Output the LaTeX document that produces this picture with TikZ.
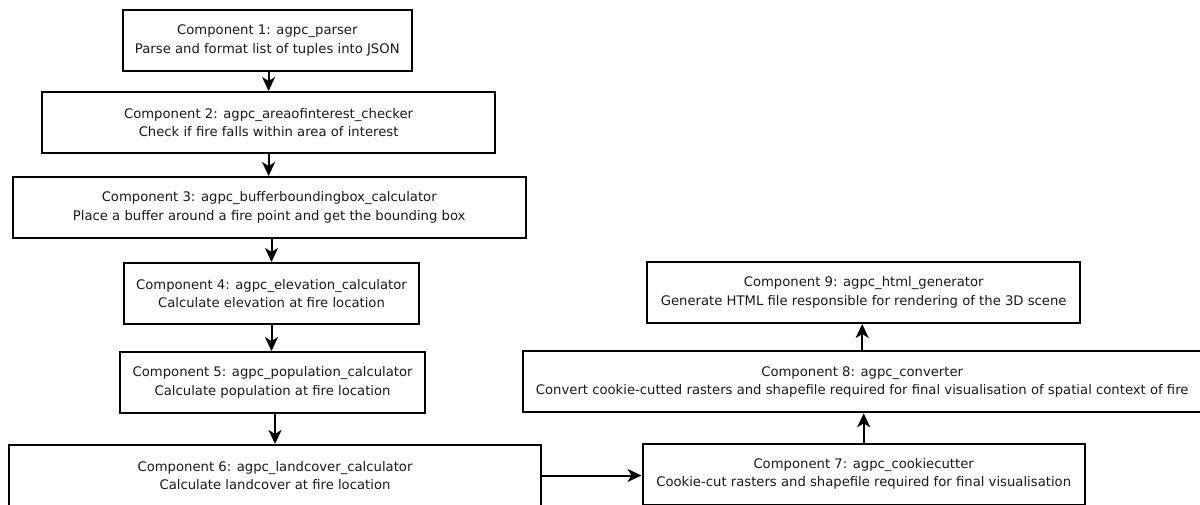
\documentclass[tikz,border=0pt]{standalone}
\usepackage{fontspec}
\setmainfont{DejaVu Sans}
\usetikzlibrary{arrows.meta}
\begin{document}
\begin{tikzpicture}[x=1pt,y=-1pt,
  comp/.style={draw=black, line width=2pt, fill=white, rectangle,
    minimum height=61pt, inner sep=0pt, align=center,
    font=\fontsize{13.2}{18.5}\selectfont, text=black!90},
  flow/.style={line width=2pt, -{Stealth[length=14pt,width=13pt,inset=4pt]}}]
\useasboundingbox (0,0) rectangle (1200,504);
% left column of processing components
\node[comp, minimum width=289.6pt] (b1) at (267.3,40.5)
  {Component 1: agpc\_parser\\Parse and format list of tuples into JSON};
\node[comp, minimum width=452.3pt] (b2) at (268.6,122.5)
  {Component 2: agpc\_areaofinterest\_checker\\Check if fire falls within area of interest};
\node[comp, minimum width=513.2pt] (b3) at (269.2,207.5)
  {Component 3: agpc\_bufferboundingbox\_calculator\\Place a buffer around a fire point and get the bounding box};
\node[comp, minimum width=295pt] (b4) at (271.5,293.5)
  {Component 4: agpc\_elevation\_calculator\\Calculate elevation at fire location};
\node[comp, minimum width=304.3pt] (b5) at (272.6,382.5)
  {Component 5: agpc\_population\_calculator\\Calculate population at fire location};
\node[comp, minimum width=531.5pt] (b6) at (275,475.5)
  {Component 6: agpc\_landcover\_calculator\\Calculate landcover at fire location};
% right column, bottom to top
\node[comp, minimum width=442.4pt] (b7) at (863.7,474)
  {Component 7: agpc\_cookiecutter\\Cookie-cut rasters and shapefile required for final visualisation};
\node[comp, minimum width=679pt] (b8) at (862.2,381.8)
  {Component 8: agpc\_converter\\Convert cookie-cutted rasters and shapefile required for final visualisation of spatial context of fire};
\node[comp, minimum width=433.3pt] (b9) at (863.7,292.5)
  {Component 9: agpc\_html\_generator\\Generate HTML file responsible for rendering of the 3D scene};
% connectors
\draw[flow] (b2.north |- b1.south) -- (b2.north);
\draw[flow] (b2.south) -- (b2.south |- b3.north);
\draw[flow] (b4.north |- b3.south) -- (b4.north);
\draw[flow] (b4.south) -- (b4.south |- b5.north);
\draw[flow] (b6.north |- b5.south) -- (b6.north);
\draw[flow] (b6.east) -- (b6.east -| b7.west);
\draw[flow] (b7.north) -- (b7.north |- b8.south);
\draw[flow] (b8.north) -- (b8.north |- b9.south);
\end{tikzpicture}
\end{document}
